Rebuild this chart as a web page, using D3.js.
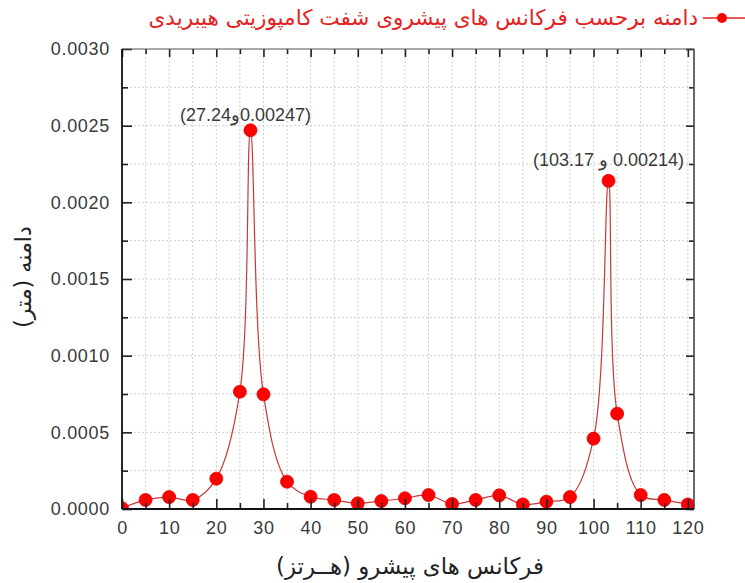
<!DOCTYPE html>
<html>
<head>
<meta charset="utf-8">
<script src="https://cdn.jsdelivr.net/npm/d3@7"></script>
<style>
  body { margin: 0; background: #fff; }
  svg { display: block; }
</style>
</head>
<body>
<div id="chart"></div>
<script>
// amplitude vs. forward frequency
const freq = [0, 5, 10, 15, 20, 25, 27.24, 30, 35, 40, 45, 50, 55, 60, 65, 70, 75, 80, 85, 90, 95, 100, 103.17, 105, 110, 115, 120];
const amp = [0.000005, 0.000059, 0.000078, 0.000059, 0.000198, 0.000765, 0.00247, 0.000748, 0.000178, 0.00008, 0.000059, 0.000037, 0.000052, 0.00007, 0.000091, 0.000033, 0.000059, 0.000089, 0.00003, 0.000048, 0.000078, 0.000459, 0.00214, 0.000622, 0.000091, 0.000059, 0.00003];

const xMajor = [0, 10, 20, 30, 40, 50, 60, 70, 80, 90, 100, 110, 120];
const xMinor = [5, 15, 25, 35, 45, 55, 65, 75, 85, 95, 105, 115];
const yMajor = [0, 0.0005, 0.001, 0.0015, 0.002, 0.0025, 0.003];
const yMinor = [0.00025, 0.00075, 0.00125, 0.00175, 0.00225, 0.00275];

const titleText = 'دامنه برحسب فرکانس های پیشروی شفت کامپوزیتی هیبریدی';
const xLabel = 'فرکانس های پیشرو (هــرتز)';
const yLabel = 'دامنه (متر)';
const peakX = [27.24, 103.17];
const peakY = [0.00247, 0.00214];
const peakText = ['\u200E(27.24\u200Eو\u200E0.00247)', '\u200E(103.17 \u200Eو\u200E 0.00214)'];

var svgWidth = 745;
var svgHeight = 583;
var margin = { top: 49, right: 51, bottom: 74, left: 122 };
const width = svgWidth - margin.left - margin.right;
const height = svgHeight - margin.top - margin.bottom;

var svg = d3.select('#chart')
  .append('svg')
  .attr('width', svgWidth)
  .attr('height', svgHeight);

var g = svg.append('g')
  .attr('transform', `translate(${margin.left}, ${margin.top})`);

var xScale = d3.scaleLinear().domain([0, 121.3]).range([0, width]);
var yScale = d3.scaleLinear().domain([0, 0.003]).range([height, 0]);

// dotted grid
g.append('g').selectAll('line')
  .data(xMajor.concat(xMinor).filter(d => d > 0))
  .enter().append('line')
  .attr('x1', d => xScale(d)).attr('x2', d => xScale(d))
  .attr('y1', 0).attr('y2', height)
  .attr('stroke', '#cfcfcf').attr('stroke-dasharray', '2,2');

g.append('g').selectAll('line')
  .data(yMajor.concat(yMinor).filter(d => d > 0 && d < 0.003))
  .enter().append('line')
  .attr('y1', d => yScale(d)).attr('y2', d => yScale(d))
  .attr('x1', 0).attr('x2', width)
  .attr('stroke', '#cfcfcf').attr('stroke-dasharray', '2,2');

// clip for the data
svg.append('defs').append('clipPath').attr('id', 'plotClip')
  .append('rect').attr('x', 0).attr('y', -20).attr('width', width).attr('height', height + 20);

var createLine = d3.line()
  .x((d, i) => xScale(freq[i]))
  .y(d => yScale(d))
  .curve(d3.curveCatmullRom.alpha(0.5));

var plot = g.append('g').attr('clip-path', 'url(#plotClip)');

plot.append('path')
  .attr('d', createLine(amp))
  .attr('fill', 'none')
  .attr('stroke', '#c43a3a')
  .attr('stroke-width', 1.2);

plot.selectAll('circle')
  .data(amp)
  .enter().append('circle')
  .attr('cx', (d, i) => xScale(freq[i]))
  .attr('cy', d => yScale(d))
  .attr('r', 6.5)
  .attr('fill', '#ff0000')
  .attr('stroke', '#e00000')
  .attr('stroke-width', 0.8);

// axes (ticks pointing inward)
const tickFont = "'Liberation Sans', Arial, sans-serif";

var xBottom = g.append('g').attr('transform', `translate(0, ${height})`)
  .call(d3.axisBottom(xScale).tickValues(xMajor).tickSizeInner(-10).tickSizeOuter(0).tickPadding(12));
var xBottomMinor = g.append('g').attr('transform', `translate(0, ${height})`)
  .call(d3.axisBottom(xScale).tickValues(xMinor).tickSizeInner(-6).tickSizeOuter(0).tickFormat(''));
var yLeft = g.append('g')
  .call(d3.axisLeft(yScale).tickValues(yMajor).tickSizeInner(-10).tickSizeOuter(0).tickPadding(12)
    .tickFormat(d3.format('.4f')));
var yLeftMinor = g.append('g')
  .call(d3.axisLeft(yScale).tickValues(yMinor).tickSizeInner(-6).tickSizeOuter(0).tickFormat(''));
var xTop = g.append('g')
  .call(d3.axisTop(xScale).tickValues(xMajor).tickSizeInner(-8).tickSizeOuter(0).tickFormat(''));
var xTopMinor = g.append('g')
  .call(d3.axisTop(xScale).tickValues(xMinor).tickSizeInner(-5).tickSizeOuter(0).tickFormat(''));
var yRight = g.append('g').attr('transform', `translate(${width}, 0)`)
  .call(d3.axisRight(yScale).tickValues(yMajor).tickSizeInner(-8).tickSizeOuter(0).tickFormat(''));
var yRightMinor = g.append('g').attr('transform', `translate(${width}, 0)`)
  .call(d3.axisRight(yScale).tickValues(yMinor).tickSizeInner(-5).tickSizeOuter(0).tickFormat(''));

[xBottom, xBottomMinor, yLeft, yLeftMinor, xTop, xTopMinor, yRight, yRightMinor].forEach(a => {
  a.select('.domain').remove();
  a.selectAll('.tick line').attr('stroke', '#222').attr('stroke-width', 1.6);
  a.selectAll('.tick text')
    .attr('fill', '#3a3a3a')
    .style('font-family', tickFont)
    .style('font-size', '18px')
    .style('letter-spacing', '0.7px');
});

// frame
g.append('line').attr('x1', 0).attr('x2', width).attr('y1', 0).attr('y2', 0).attr('stroke', '#555').attr('stroke-width', 1.2);
g.append('line').attr('x1', width).attr('x2', width).attr('y1', 0).attr('y2', height).attr('stroke', '#444').attr('stroke-width', 1.6);
g.append('line').attr('x1', 0).attr('x2', 0).attr('y1', 0).attr('y2', height).attr('stroke', '#111').attr('stroke-width', 1.8);
g.append('line').attr('x1', 0).attr('x2', width).attr('y1', height).attr('y2', height).attr('stroke', '#111').attr('stroke-width', 1.8);

// peak labels
const noteDx = [-5, 0];
const noteDy = [-9, -15];
g.selectAll('.note')
  .data(peakText)
  .enter().append('text')
  .attr('class', 'note')
  .attr('x', (d, i) => xScale(peakX[i]) + noteDx[i])
  .attr('y', (d, i) => yScale(peakY[i]) + noteDy[i])
  .attr('text-anchor', 'middle')
  .attr('direction', 'ltr')
  .attr('fill', '#3a3a3a')
  .style('font-family', tickFont)
  .style('font-size', '18px')
  .style('letter-spacing', '0.7px')
  .text(d => d);

// fit persian text into a given width
function fitText(sel, targetWidth) {
  var w = sel.node().getComputedTextLength();
  var fs = parseFloat(sel.style('font-size'));
  if (w > 0) sel.style('font-size', (fs * targetWidth / w) + 'px');
}

var persianFont = "'DejaVu Sans', 'Noto Sans', sans-serif";

// title + legend symbol
var title = svg.append('text')
  .attr('x', 698)
  .attr('y', 25)
  .attr('text-anchor', 'start')
  .attr('direction', 'rtl')
  .attr('fill', '#e32222')
  .style('font-family', persianFont)
  .style('font-size', '19px')
  .text(titleText);
fitText(title, 550);

svg.append('line').attr('x1', 703).attr('x2', 745).attr('y1', 18).attr('y2', 18)
  .attr('stroke', '#e32222').attr('stroke-width', 1.5);
svg.append('circle').attr('cx', 722).attr('cy', 18).attr('r', 5).attr('fill', '#ff0000');

// axis titles
var xt = svg.append('text')
  .attr('x', 410)
  .attr('y', 574)
  .attr('text-anchor', 'middle')
  .attr('direction', 'rtl')
  .attr('fill', '#222')
  .style('font-family', persianFont)
  .style('font-size', '19px')
  .text(xLabel);
fitText(xt, 268);

var yt = svg.append('text')
  .attr('transform', 'translate(31, 277) rotate(-90)')
  .attr('text-anchor', 'middle')
  .attr('direction', 'rtl')
  .attr('fill', '#222')
  .style('font-family', persianFont)
  .style('font-size', '19px')
  .text(yLabel);
fitText(yt, 102);
</script>
</body>
</html>
